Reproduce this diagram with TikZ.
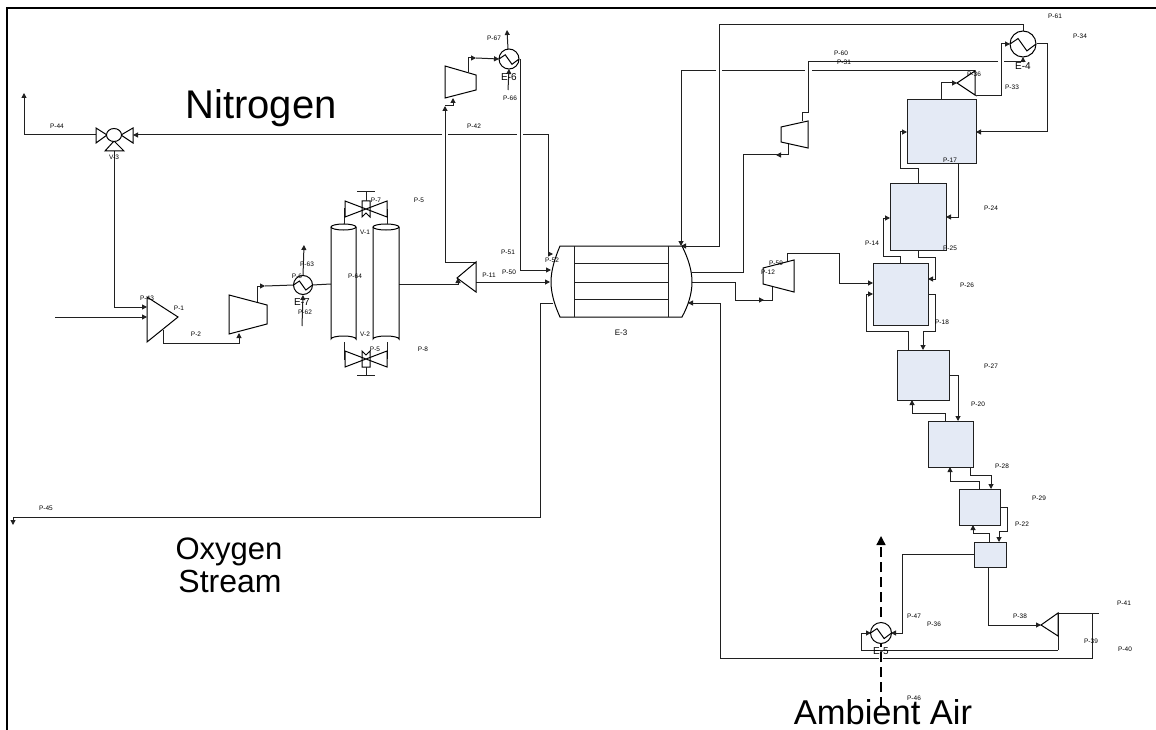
\documentclass[tikz,border=0pt]{standalone}
\usepackage{fontspec}
\setmainfont{Liberation Sans}
\usetikzlibrary{arrows.meta,shapes.geometric}
\definecolor{boxfill}{HTML}{E4EAF5}
\definecolor{pipegray}{HTML}{202020}
\tikzset{
  pipe/.style={draw=pipegray,line width=1pt},
  flow/.style={pipe,-{Triangle[length=5pt,width=5pt]}},
  eq/.style={draw=black,line width=1pt,fill=white,line join=miter},
  tank/.style={draw=pipegray,line width=1pt,fill=boxfill,rectangle,inner sep=0pt,outer sep=0pt},
  exch/.style={draw=black,line width=1pt,fill=white,circle,inner sep=0pt,outer sep=0pt},
  lab/.style={font=\fontsize{6.5}{7}\selectfont,inner sep=0pt},
  tag/.style={font=\fontsize{10}{11}\selectfont,inner sep=0pt},
  big/.style={inner sep=0pt,text=black}
}
\newcommand{\plab}[3]{\node[lab] (l#1x#2) at (#1,#2) {#3};}
\newcommand{\boxn}[5]{\node[tank,minimum width=#4-#2,minimum height=#5-#3] (#1) at ({(#2+#4)/2},{(#3+#5)/2}) {};}
\newcommand{\hxn}[4]{%
  \node[exch,minimum size=2*#4] (#1) at (#2,#3) {};
  \draw[line width=1pt] (#1.west) -- ++({0.62*#4},{-0.42*#4}) -- ++({0.68*#4},{0.95*#4}) -- ++({0.7*#4},{-0.53*#4});
}
\begin{document}
\begin{tikzpicture}[x=1pt,y=-1pt]
\useasboundingbox (0,0) rectangle (1156,730);
\fill[white] (0,0) rectangle (1156,730);
% frame
\coordinate (fa) at (7,730); \coordinate (fb) at (7,8); \coordinate (fc) at (1156,8);
\draw[line width=2pt,black] (fa) -- (fb) -- (fc);

% ---- named ports
\coordinate (out44) at (24,93);
\coordinate (v3l) at (96,135); \coordinate (v3r) at (133,135); \coordinate (v3b) at (114,151);
\coordinate (s1a) at (147,307); \coordinate (s1b) at (147,317); \coordinate (feed) at (55,317);
\coordinate (s1o) at (163,330);
\coordinate (c1i) at (239,333); \coordinate (c1o) at (257,305);
\coordinate (e7in) at (302,326); \coordinate (e7out) at (304,245);
\coordinate (vlt) at (344,224); \coordinate (vlb) at (344,342);
\coordinate (vrt) at (387,224); \coordinate (vrb) at (387,342);
\coordinate (vtl) at (345,209); \coordinate (vtr) at (387,209);
\coordinate (vbl) at (345,359); \coordinate (vbr) at (387,359);
\coordinate (colL) at (356,284); \coordinate (colR) at (399,284);
\coordinate (s2i) at (458,278); \coordinate (s2t) at (476,262); \coordinate (s2b) at (476,282);
\coordinate (c2i) at (453,98); \coordinate (c2o) at (468,72);
\coordinate (e6out) at (507,30); \coordinate (e6in) at (508,90);
\coordinate (e3a) at (553,254); \coordinate (e3b) at (551,270); \coordinate (e3c) at (550,282);
\coordinate (e3d) at (553,303); \coordinate (e3e) at (688,303);
\coordinate (e3f) at (681,246); \coordinate (e3g) at (692,272); \coordinate (e3h) at (692,282);
\coordinate (o2out) at (13,525);
\coordinate (c3i) at (788,143); \coordinate (c3o) at (802,121);
\coordinate (c4i) at (772,287); \coordinate (c4o) at (787,262);
\coordinate (s3a) at (957,83); \coordinate (s3t) at (975,71); \coordinate (s3b) at (977,96);
\coordinate (s4a) at (1041,625); \coordinate (s4t) at (1058,613); \coordinate (s4b) at (1058,650);
\coordinate (e41) at (1099,613); \coordinate (j39) at (1092,613); \coordinate (j40) at (1092,658);
\coordinate (airIn) at (881,707); \coordinate (airOut) at (881,536);

% ---- dashed ambient air
\draw[line width=1.4pt,dash pattern=on 10pt off 5pt,-{Triangle[length=9pt,width=9pt]}] (airIn) -- (airOut);

% ---- equipment
\boxn{b1}{907}{100}{976}{164}
\boxn{b2}{890}{184}{946}{250}
\boxn{b3}{873}{263}{928}{325}
\boxn{b4}{897}{350}{949}{400}
\boxn{b5}{928}{421}{973}{467}
\boxn{b6}{959}{489}{1000}{525}
\boxn{b7}{974}{542}{1006}{567}

% ---- pipes
\draw[pipe] (v3l) -- (24,135);
\draw[flow] (24,135) -- (out44);
\draw[flow] (442,135) -- (v3r);
\draw[pipe] (448,135) -- (517,135);
\draw[pipe] (523,135) -- (548,135) -- (548,254);
\draw[flow] (548,254) -- (e3a);
\draw[flow] (v3b) -- (114,307) -- (s1a);
\draw[flow] (feed) -- (s1b);
\draw[flow] (s1o) -- (163,343) -- (239,343) -- (c1i);
\draw[flow] (c1o) -- (257,286) -- (265,286);
\draw[pipe] (265,286) -- (294,285);
\draw[flow] (e7in) -- (303,295);
\draw[flow] (303,276) -- (e7out);
\draw[pipe] (312,285) -- (331,284);
\draw[flow] (colR) -- (458,284) -- (s2i);
\draw[pipe] (s2t) -- (445,262) -- (445,108);
\draw[flow] (445,112) -- (445,106);
\draw[flow] (445,106) -- (453,106) -- (c2i);
\draw[flow] (c2o) -- (468,58) -- (476,58);
\draw[flow] (476,58) -- (499,59);
\draw[flow] (508,49) -- (e6out);
\draw[flow] (e6in) -- (509,69);
\draw[flow] (520,59) -- (520,270) -- (e3b);
\draw[flow] (s2b) -- (e3c);
\draw[flow] (e3d) -- (540,303) -- (540,517) -- (13,517) -- (o2out);
\draw[flow] (720,303) -- (e3e);
\draw[pipe] (720,303) -- (720,658) -- (879,658);
\draw[pipe] (883,658) -- (j40) -- (j39);
\draw[pipe] (s4t) -- (e41);
\draw[flow] (1023,31) -- (1023,25) -- (719,25) -- (719,246) -- (e3f);
\draw[flow] (716,71) -- (681,71) -- (681,246);
\draw[pipe] (722,71) -- (805,71);
\draw[pipe] (812,71) -- (s3t);
\draw[flow] (s3b) -- (1001,96) -- (1001,44) -- (1010,44);
\draw[pipe] (1037,44) -- (1047,44) -- (1047,132);
\draw[flow] (1047,132) -- (b1.east |- 0,132);
\draw[flow] (1004,62) -- (1023,62) -- (1023,57);
\draw[pipe] (998,62) -- (808,62) -- (808,113) -- (802,113) -- (c3o);
\draw[pipe] (c3i) -- (788,155) -- (743,155);
\draw[flow] (788,155) -- (776,155);
\draw[pipe] (743,155) -- (743,272) -- (e3g);
\draw[pipe] (e3h) -- (735,282) -- (735,300) -- (772,300) -- (c4i);
\draw[flow] (735,300) -- (764,300);
\draw[pipe] (c4o) -- (787,253) -- (839,253) -- (839,283);
\draw[flow] (839,283) -- (b3.west |- 0,283);
\draw[flow] (b1.north -| 941,0) -- (941,83) -- (s3a);
\draw[flow] (b2.north -| 918,0) -- (918,169) -- (900,169) -- (900,132) -- (b1.west |- 0,132);
\draw[flow] (b1.south -| 958,0) -- (958,217) -- (b2.east |- 0,217);
\draw[flow] (b3.north -| 900,0) -- (900,256) -- (883,256) -- (883,218) -- (b2.west |- 0,218);
\draw[flow] (b2.south -| 918,0) -- (918,257) -- (935,257) -- (935,279) -- (b3.east |- 0,279);
\draw[flow] (b4.north -| 908,0) -- (908,331) -- (866,331) -- (866,294) -- (b3.west |- 0,294);
\draw[flow] (b3.east |- 0,294) -- (935,294) -- (935,331) -- (923,331) -- (b4.north -| 923,0);
\draw[flow] (b4.east |- 0,375) -- (958,375) -- (b5.north -| 958,0);
\draw[flow] (b5.north -| 945,0) -- (945,413) -- (912,413) -- (b4.south -| 912,0);
\draw[flow] (b5.south -| 970,0) -- (970,475) -- (991,475) -- (b6.north -| 991,0);
\draw[flow] (b6.north -| 979,0) -- (979,481) -- (950,481) -- (b5.south -| 950,0);
\draw[flow] (b6.east |- 0,507) -- (1007,507) -- (1007,531) -- (999,531) -- (b7.north -| 999,0);
\draw[flow] (b7.north -| 989,0) -- (989,533) -- (973,533) -- (b6.south -| 973,0);
\draw[flow] (b7.west |- 0,554) -- (902,554) -- (902,633) -- (891,633);
\draw[flow] (b7.south -| 988,0) -- (988,625) -- (s4a);
\draw[pipe] (s4b) -- (861,650);
\draw[flow] (861,650) -- (861,633) -- (871,633);
\draw[pipe] (s4t) -- (s4b);

% ---- three way valve V-3
\draw[eq] (v3l) -- (96,128) -- (107,135) -- (96,143) -- cycle;
\draw[eq] (v3r) -- (133,128) -- (121,135) -- (133,143) -- cycle;
\draw[eq] (105,151) -- (124,151) -- (114,141) -- cycle;
\node[exch,ellipse,minimum width=15pt,minimum height=13pt] (v3c) at (114,135) {};

% ---- splitters and compressors
\draw[eq] (147,297) -- (178,317) -- (147,342) -- cycle;
\draw[eq] (229,295) -- (267,305) -- (267,324) -- (229,334) -- cycle;
\draw[eq] (457,278) -- (476,262) -- (476,292) -- cycle;
\draw[eq] (445,66) -- (476,75) -- (476,90) -- (445,98) -- cycle;
\draw[eq] (781,127) -- (808,121) -- (808,148) -- (781,142) -- cycle;
\draw[eq] (763,268) -- (794,260) -- (794,292) -- (763,284) -- cycle;
\draw[eq] (s3a) -- (975,71) -- (975,95) -- cycle;
\draw[pipe] (975,95) -- (s3b);
\draw[eq] (s4a) -- (s4t) -- (1058,636) -- cycle;

% ---- heat exchangers
\hxn{e7}{303}{285}{9.5}
\hxn{e6}{509}{59}{10}
\hxn{e4}{1023}{44}{13}
\hxn{e5}{881}{633}{10.5}

% ---- adsorption columns
\draw[eq] (331,227) -- (331,339) arc[start angle=180,end angle=360,x radius=12.5,y radius=3] -- (356,227);
\draw[eq] (343.5,227) ellipse[x radius=12.5,y radius=3];
\draw[eq] (373,227) -- (373,339) arc[start angle=180,end angle=360,x radius=13,y radius=3] -- (399,227);
\draw[eq] (386,227) ellipse[x radius=13,y radius=3];
% valve top
\draw[pipe] (vlt) -- (vlt |- vtl) -- (vtl);
\draw[pipe] (vrt) -- (vtr);
\draw[pipe] (vlb) -- (vlb |- vbl) -- (vbl);
\draw[pipe] (vrb) -- (vbr);
\draw[eq,fill=none] (345,201) -- (387,217) -- (387,201) -- (345,217) -- cycle;
\draw[eq,fill=none] (362,217) -- (362,201) -- (370,201) -- (370,217) -- (366,213) -- cycle;
\draw[pipe] (366,201) -- (366,192) (357,192) -- (375,192);
\draw[eq,fill=none] (345,351) -- (387,367) -- (387,351) -- (345,367) -- cycle;
\draw[eq,fill=none] (362,351) -- (362,367) -- (370,367) -- (370,351) -- (366,355) -- cycle;
\draw[pipe] (366,367) -- (366,375) (357,375) -- (375,375);

% ---- main heat exchanger E-3
\draw[eq] (560,246) -- (682,246) .. controls (688,258) and (692,270) .. (692,282) .. controls (692,294) and (688,306) .. (682,317) -- (560,317) .. controls (555,306) and (551,294) .. (551,282) .. controls (551,270) and (555,258) .. (560,246) -- cycle;
\draw[pipe] (574,246) -- (574,317) (668,246) -- (668,317);
\draw[pipe] (574,263) -- (668,263) (574,282) -- (668,282) (574,299) -- (668,299);

% ---- labels
\node[big,font=\fontsize{40}{40}\selectfont] (nitro) at (261,108) {Nitrogen};
\node[big,font=\fontsize{31}{31}\selectfont] (oxy) at (229,552) {Oxygen};
\node[big,font=\fontsize{32}{32}\selectfont] (strm) at (230,581) {Stream};
\node[big,font=\fontsize{34.5}{35}\selectfont] (amb) at (883,712) {Ambient Air};

\node[tag] (te7) at (302,302) {E-7};
\node[tag] (te6) at (509,77) {E-6};
\node[tag] (te4) at (1023,66) {E-4};
\node[tag] (te5) at (881,651) {E-5};
\node[lab,font=\fontsize{8}{9}\selectfont] (te3) at (621,333) {E-3};

\plab{57}{126}{P-44}\plab{114}{157}{V-3}\plab{147}{298}{P-43}\plab{179}{308}{P-1}
\plab{196}{334}{P-2}\plab{297}{276}{P-6}\plab{307}{264}{P-63}\plab{305}{312}{P-62}
\plab{376}{200}{P-7}\plab{419}{200}{P-5}\plab{365}{232}{V-1}\plab{355}{276}{P-64}
\plab{365}{334}{V-2}\plab{375}{349}{P-5}\plab{423}{349}{P-8}
\plab{489}{275}{P-11}\plab{494}{38}{P-67}\plab{510}{98}{P-66}\plab{474}{126}{P-42}
\plab{508}{252}{P-51}\plab{552}{260}{P-52}\plab{509}{272}{P-50}
\plab{46}{508}{P-45}
\plab{1055}{16}{P-61}\plab{1080}{36}{P-34}\plab{841}{53}{P-60}\plab{844}{62}{P-31}
\plab{974}{74}{P-36}\plab{1012}{87}{P-33}\plab{950}{160}{P-17}\plab{991}{208}{P-24}
\plab{872}{243}{P-14}\plab{950}{248}{P-25}\plab{776}{263}{P-59}\plab{768}{272}{P-12}
\plab{967}{285}{P-26}\plab{942}{322}{P-18}\plab{991}{366}{P-27}\plab{978}{404}{P-20}
\plab{1002}{466}{P-28}\plab{1039}{498}{P-29}\plab{1022}{524}{P-22}
\plab{914}{616}{P-47}\plab{934}{624}{P-36}\plab{1020}{616}{P-38}\plab{1124}{603}{P-41}
\plab{1091}{641}{P-39}\plab{1125}{649}{P-40}\plab{914}{698}{P-46}
\end{tikzpicture}
\end{document}
